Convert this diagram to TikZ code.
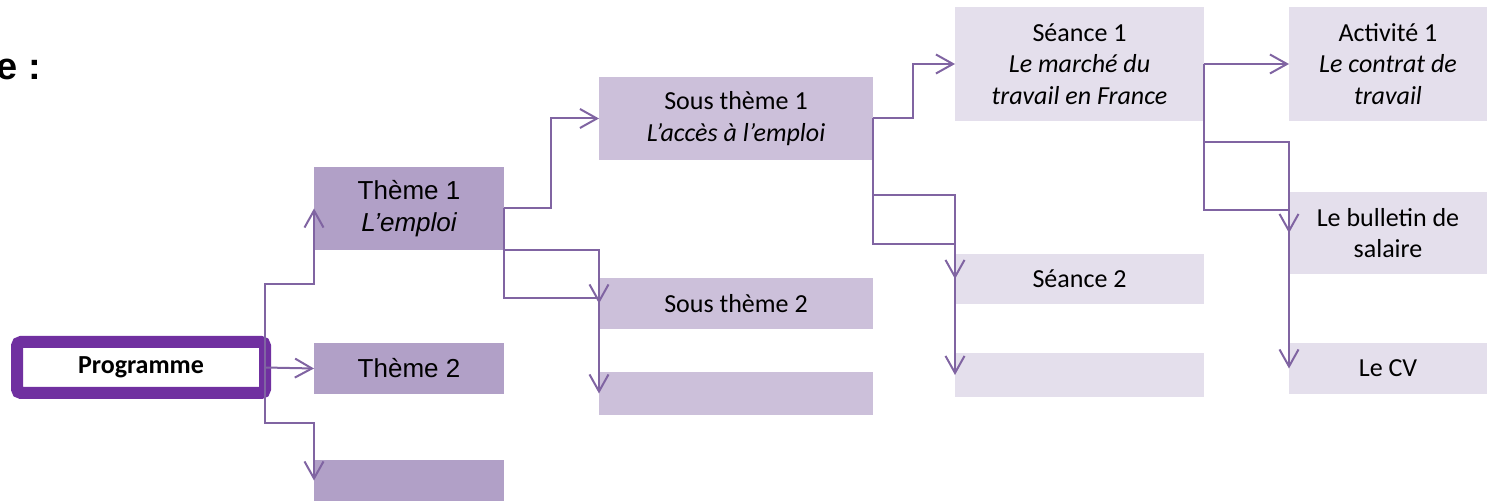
\documentclass[tikz,border=0pt]{standalone}
\usepackage{fontspec}
\setmainfont{Carlito}
\newfontfamily\arialf{Liberation Sans}
\usetikzlibrary{arrows.meta}

\definecolor{lienc}{HTML}{8064A2}
\definecolor{progc}{HTML}{7030A0}
\definecolor{themec}{HTML}{B1A0C7}
\definecolor{sousc}{HTML}{CCC0DA}
\definecolor{seancec}{HTML}{E4DFEC}

\begin{document}
\begin{tikzpicture}[x=0.5pt, y=-0.5pt,
  boite/.style={inner sep=0pt, outer sep=0pt, align=center,
    font=\fontsize{13}{15.8}\selectfont},
  theme/.style={boite, fill=themec, minimum width=95pt,
    font=\arialf\fontsize{13}{16}\selectfont},
  sous/.style={boite, fill=sousc, minimum width=137pt},
  seance/.style={boite, fill=seancec, minimum width=124.5pt},
  activ/.style={boite, fill=seancec, minimum width=99pt},
  lien/.style={draw=lienc, line width=1pt, line join=miter,
    -{Straight Barb[length=8.5pt, width=9.5pt, line width=1pt]}}]
\useasboundingbox (0,0) rectangle (1487,501);

% titre coupe
\node[anchor=base west, inner sep=0pt, font=\arialf\bfseries\fontsize{19}{22}\selectfont] (titre) at (-4,80) {e :};

% Programme
\node[inner sep=0pt, outer sep=0pt, draw=progc, line width=6pt, rounded corners=2pt,
  fill=white, minimum width=124pt, minimum height=25.5pt,
  font=\bfseries\fontsize{13}{15.8}\selectfont] (prog) at (141,367.5) {Programme};

% Themes
\node[theme, minimum height=41.5pt] (t1) at (409,208.5) {Thème 1\\\itshape L’emploi};
\node[theme, minimum height=25.5pt] (t2) at (409,368.5) {Thème 2};
\node[theme, minimum height=20.5pt] (t3) at (409,480.5) {};

% Sous themes
\node[sous, minimum height=41.5pt] (s1) at (736,118.5) {Sous thème 1\\\itshape L’accès à l’emploi};
\node[sous, minimum height=25.5pt] (s2) at (736,303.5) {Sous thème 2};
\node[sous, minimum height=21.5pt] (s3) at (736,393.5) {};

% Seances
\node[seance, minimum height=57pt] (se1) at (1079.5,64) {Séance 1\\\itshape Le marché du\\\itshape travail en France};
\node[seance, minimum height=25pt] (se2) at (1079.5,279) {Séance 2};
\node[seance, minimum height=22pt] (se3) at (1079.5,375) {};

% Activites
\node[activ, minimum height=57pt] (a1) at (1388,64) {Activité 1\\\itshape Le contrat de\\\itshape travail};
\node[activ, minimum height=41pt] (a2) at (1388,233) {Le bulletin de\\salaire};
\node[activ, minimum height=25.5pt] (a3) at (1388,368.5) {Le CV};

% liens
\draw[lien] (prog.east) -- ++(0,-83.5) -| (t1.west);
\draw[lien] (prog.east) -- (t2.west);
\draw[lien] (prog.east) -- ++(0,55.5) -| (t3.west);

\draw[lien] (t1.east) -- ++(47,0) |- (s1.west);
\draw[lien] (t1.south east) -| (s2.west);
\draw[lien] (t1.east) -- ++(0,89.5) -| (s3.west);

\draw[lien] (s1.east) -- ++(40,0) |- (se1.west);
\draw[lien] (s1.east) -- ++(0,76.5) -| (se2.west);
\draw[lien] (s1.east) -- ++(0,125.5) -| (se3.west);

\draw[lien] (se1.east) -- (a1.west);
\draw[lien] (se1.east) -- ++(0,78) -| (a2.west);
\draw[lien] (se1.east) -- ++(0,146) -| (a3.west);

\end{tikzpicture}
\end{document}
